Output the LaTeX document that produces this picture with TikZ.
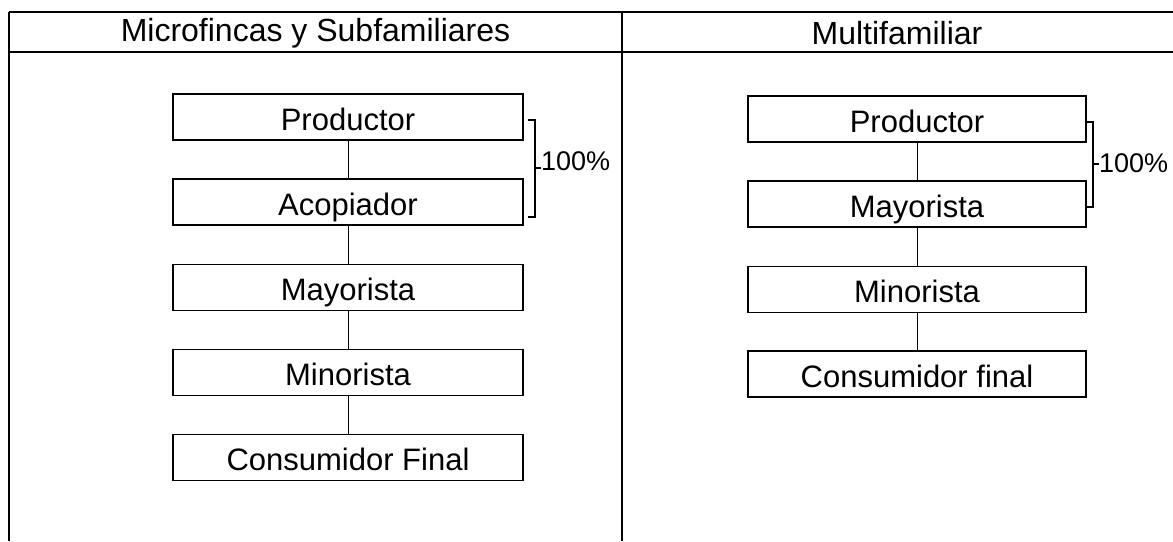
\documentclass[tikz,border=0pt]{standalone}
\usepackage{fontspec}
\setmainfont{Liberation Sans}
\begin{document}
\begin{tikzpicture}[x=1pt,y=-1pt,
  tableline/.style={line width=1.8pt,black},
  stagebox/.style={draw,line width=1.4pt,rectangle,minimum height=46pt,inner sep=0pt,
    font=\fontsize{31}{31}\selectfont,text height=27pt,text depth=1pt},
  leftbox/.style={stagebox,minimum width=350pt},
  rightbox/.style={stagebox,minimum width=338pt},
  link/.style={line width=1pt},
  bracket/.style={line width=1.2pt},
  headtext/.style={font=\fontsize{32}{32}\selectfont,inner sep=0pt},
  pct/.style={font=\fontsize{27}{27}\selectfont,inner sep=0pt,anchor=west}]
\useasboundingbox (0,0) rectangle (1173,541);
% table frame
\draw[tableline] (9,12) -- (1173,12);
\draw[tableline] (9,52) -- (1173,52);
\draw[tableline] (9,12) -- (9,541);
\draw[tableline] (622,12) -- (622,541);
\node[headtext] (h1) at (315.5,33) {Microfincas y Subfamiliares};
\node[headtext] (h2) at (897,33) {Multifamiliar};
% left chain
\node[leftbox] (lp) at (348,117) {Productor};
\node[leftbox] (la) at (348,202) {Acopiador};
\node[leftbox] (lma) at (348,287.5) {Mayorista};
\node[leftbox] (lmi) at (348,372.5) {Minorista};
\node[leftbox] (lc) at (348,457.5) {Consumidor Final};
\draw[link] (lp) -- (la);
\draw[link] (la) -- (lma);
\draw[link] (lma) -- (lmi);
\draw[link] (lmi) -- (lc);
% right chain
\node[rightbox] (rp) at (917,119) {Productor};
\node[rightbox] (rma) at (917,204) {Mayorista};
\node[rightbox] (rmi) at (917,289.5) {Minorista};
\node[rightbox] (rc) at (917,374) {Consumidor final};
\draw[link] (rp) -- (rma);
\draw[link] (rma) -- (rmi);
\draw[link] (rmi) -- (rc);
% brackets
\coordinate (lbt) at (528,120);
\coordinate (lbb) at (528,217);
\coordinate (lbm) at (535,168);
\draw[bracket] (lbt) -- ++(7,0) -- ++(0,97) -- (lbb);
\draw[bracket] (lbm) -- ++(6,0) coordinate (lbe);
\node[pct] (lt) at (541,161) {100\%};
\coordinate (rbt) at (1087,122);
\coordinate (rbb) at (1087,207);
\coordinate (rbm) at (1093,164);
\draw[bracket] (rbt) -- ++(6,0) -- ++(0,85) -- (rbb);
\draw[bracket] (rbm) -- ++(6,0) coordinate (rbe);
\node[pct] (rt) at (1099,163) {100\%};
\end{tikzpicture}
\end{document}
